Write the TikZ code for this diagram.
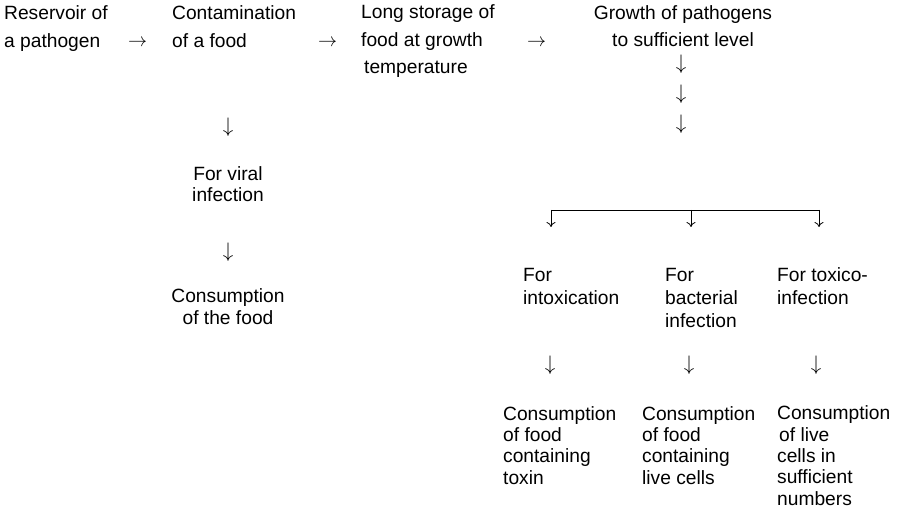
\documentclass[tikz,border=0pt]{standalone}
\usepackage{graphicx}
\usepackage{fontspec}
\setmainfont{Liberation Sans}
\usetikzlibrary{arrows.meta}
\newcommand{\myra}{\scalebox{1.9}{\fontsize{10}{12}\selectfont$\rightarrow$}}
\newcommand{\myda}{\scalebox{2.1}{\fontsize{10}{12}\selectfont$\downarrow$}}
\tikzset{
  toptext/.style={inner sep=0pt, anchor=base west, align=left, font=\fontsize{19.2}{27.5}\selectfont},
  lowtext/.style={inner sep=0pt, anchor=base west, align=left, font=\fontsize{19.2}{21.3}\selectfont},
  fortext/.style={inner sep=0pt, anchor=base west, align=left, font=\fontsize{19.2}{23}\selectfont},
  ctrtext/.style={inner sep=0pt, anchor=base, align=center, font=\fontsize{19.2}{21.5}\selectfont},
  rarr/.style={inner sep=0pt, anchor=base west},
  darr/.style={inner sep=0pt, anchor=base},
  brk/.style={line width=0.8pt},
  brkarr/.style={line width=0.8pt, -{Computer Modern Rightarrow[length=5pt,width=9pt]}}
}
\begin{document}
\begin{tikzpicture}[x=1pt,y=-1pt]
\useasboundingbox (0,0) rectangle (897,510);
% top row (anchors at the baseline of the last line)
\node[toptext] (res) at (4,47.5) {Reservoir of\\a pathogen};
\node[rarr] (a1) at (128,47) {\myra};
\node[toptext] (cont) at (172,47.5) {Contamination\\of a food};
\node[rarr] (a2) at (318,47) {\myra};
\node[toptext] (stor) at (361,74) {Long storage of\\food at growth\\\hspace*{3pt}temperature};
\node[rarr] (a3) at (527,47) {\myra};
\node[toptext, anchor=base, align=center] (grow) at (683,47) {Growth of pathogens\\to sufficient level};
\node[darr] (g1) at (681,70) {\myda};
\node[darr] (g2) at (681,100) {\myda};
\node[darr] (g3) at (681,130) {\myda};
% left column
\node[darr] (l1) at (228,132.5) {\myda};
\node[ctrtext, font=\fontsize{19.2}{21}\selectfont] (viral) at (228,202) {For viral\\infection};
\node[darr] (l2) at (228,257.5) {\myda};
\node[ctrtext, font=\fontsize{19.2}{22}\selectfont] (cons0) at (228,325) {Consumption\\of the food};
% bracket
\coordinate (bl) at (551,210);
\coordinate (bm) at (691,210);
\coordinate (br) at (819,210);
\coordinate (tl) at (551,227);
\coordinate (tm) at (691,227);
\coordinate (tr) at (819,227);
\draw[brk] (bl) -- (br);
\draw[brkarr] (bl) -- (tl);
\draw[brkarr] (bm) -- (tm);
\draw[brkarr] (br) -- (tr);
% three branches
\node[fortext] (intox) at (523,305) {For\\intoxication};
\node[fortext] (bact) at (665,328) {For\\bacterial\\infection};
\node[fortext] (toxi) at (777,305) {For toxico-\\infection};
\node[darr] (b1) at (550,370.5) {\myda};
\node[darr] (b2) at (689,370.5) {\myda};
\node[darr] (b3) at (816,370.5) {\myda};
\node[lowtext] (c1) at (503,484) {Consumption\\of food\\containing\\toxin};
\node[lowtext] (c2) at (642,484) {Consumption\\of food\\containing\\live cells};
\node[lowtext] (c3) at (777,505) {Consumption\\\hspace*{2pt}of live\\cells in\\sufficient\\numbers};
\end{tikzpicture}
\end{document}
